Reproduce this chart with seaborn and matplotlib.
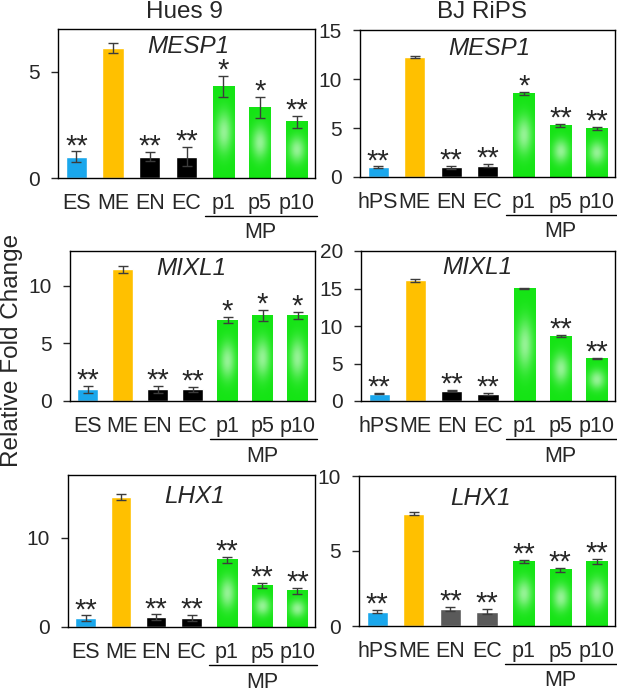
import numpy as np
import matplotlib
matplotlib.use('Agg')
import matplotlib.pyplot as plt
import matplotlib.colors as mcolors
import matplotlib.transforms as mtransforms
import seaborn as sns

# categories
hues_groups = ['ES', 'ME', 'EN', 'EC', 'p1', 'p5', 'p10']
bj_groups = ['hPS', 'ME', 'EN', 'EC', 'p1', 'p5', 'p10']

# Hues 9
mesp1_hues = [1.0, 6.1, 1.0, 1.0, 4.3, 3.3, 2.65]
mesp1_hues_err = [0.25, 0.25, 0.22, 0.45, 0.5, 0.5, 0.28]
mesp1_hues_sig = ['**', '', '**', '**', '*', '*', '**']

mixl1_hues = [1.0, 11.4, 1.0, 1.0, 7.0, 7.4, 7.4]
mixl1_hues_err = [0.3, 0.3, 0.3, 0.25, 0.28, 0.5, 0.3]
mixl1_hues_sig = ['**', '', '**', '**', '*', '*', '*']

lhx1_hues = [1.0, 14.5, 1.1, 1.0, 7.5, 4.65, 4.05]
lhx1_hues_err = [0.3, 0.35, 0.3, 0.35, 0.3, 0.3, 0.35]
lhx1_hues_sig = ['**', '', '**', '**', '**', '**', '**']

# BJ RiPS
mesp1_bj = [1.0, 12.2, 1.0, 1.15, 8.55, 5.3, 4.95]
mesp1_bj_err = [0.08, 0.1, 0.15, 0.15, 0.15, 0.15, 0.15]
mesp1_bj_sig = ['**', '', '**', '**', '*', '**', '**']

mixl1_bj = [1.0, 16.1, 1.4, 0.95, 15.0, 8.65, 5.65]
mixl1_bj_err = [0.1, 0.2, 0.1, 0.15, 0.1, 0.15, 0.1]
mixl1_bj_sig = ['**', '', '**', '**', '', '**', '**']

lhx1_bj = [0.95, 7.5, 1.15, 0.95, 4.3, 3.75, 4.3]
lhx1_bj_err = [0.1, 0.12, 0.15, 0.18, 0.12, 0.12, 0.15]
lhx1_bj_sig = ['**', '', '**', '**', '**', '**', '**']

blue = '#1aa7ec'
orange = '#ffc000'
green = '#14e414'
hues_colors = [blue, orange, 'black', 'black', green, green, green]
bj_colors = [blue, orange, 'black', 'black', green, green, green]
bj_colors_lhx1 = [blue, orange, '#5a5a5a', '#5a5a5a', green, green, green]

sns.set_style('ticks')
plt.rcParams['font.family'] = ['Liberation Sans', 'DejaVu Sans']

W, H = 617, 691
fig = plt.figure(figsize=(W / 100, H / 100), dpi=100)


def add_glow(ax, patch, color):
    # soft light spot in the middle of the green bars
    x0 = patch.get_x()
    w = patch.get_width()
    h = patch.get_height()
    u = np.linspace(-1, 1, 40)
    v = np.linspace(-1, 1, 120)
    U, V = np.meshgrid(u, v)
    a = 0.55 * np.exp(-((U / 0.75) ** 2 + (V / 0.45) ** 2))
    base = np.array(mcolors.to_rgb(color))
    img = base * (1 - a[..., None]) + a[..., None]
    ax.imshow(img, extent=[x0, x0 + w, 0, h], aspect='auto',
              zorder=patch.get_zorder() + 0.1, interpolation='bilinear')


def panel(box, groups, vals, errs, sig, colors, ymax, yticks, gene, gpos):
    l, t, r, b = box
    ax = fig.add_axes([l / W, 1 - b / H, (r - l) / W, (b - t) / H])
    sns.barplot(x=groups, y=vals, hue=groups, palette=colors, legend=False,
                width=0.58, saturation=1, errorbar=None, ax=ax)
    for p in ax.patches:
        i = int(round(p.get_x() + p.get_width() / 2))
        if colors[i] == green:
            add_glow(ax, p, green)
    ax.errorbar(range(len(vals)), vals, yerr=errs, fmt='none', ecolor='#3c3c3c',
                elinewidth=1, capsize=3.5, capthick=1, zorder=5)
    for i, s in enumerate(sig):
        if s:
            ax.annotate(s, (i, vals[i] + errs[i]), xytext=(0, -2),
                        textcoords='offset points', ha='center', va='baseline',
                        fontsize=21)
    ax.set_xlim(-0.5, len(vals) - 0.5)
    ax.set_ylim(0, ymax)
    ax.set_yticks(yticks)
    ax.set_xlabel('')
    ax.set_ylabel('')
    for sp in ax.spines.values():
        sp.set_visible(True)
        sp.set_color('black')
        sp.set_linewidth(1)
    ax.tick_params(axis='x', length=0, pad=11, labelsize=15.5)
    ax.tick_params(axis='y', length=5, width=1, pad=8, labelsize=15, direction='out')
    ax.text(gpos[0], gpos[1], gene, transform=ax.transAxes, ha='center',
            va='baseline', fontsize=17.5, style='italic')
    hpx = b - t
    trans = mtransforms.blended_transform_factory(ax.transData, ax.transAxes)
    ax.plot([3.5, 6.55], [-38 / hpx, -38 / hpx], transform=trans, color='black',
            lw=1, clip_on=False)
    ax.text(5, -55 / hpx, 'MP', transform=trans, ha='center', va='center',
            fontsize=15.5)
    return ax


panel((58, 29, 315, 178), hues_groups, mesp1_hues, mesp1_hues_err, mesp1_hues_sig,
      hues_colors, 7, [0, 5], 'MESP1', (0.506, 0.839))
panel((360, 30, 615, 177), bj_groups, mesp1_bj, mesp1_bj_err, mesp1_bj_sig,
      bj_colors, 15, [0, 5, 10, 15], 'MESP1', (0.506, 0.83))
panel((70, 251, 315, 401), hues_groups, mixl1_hues, mixl1_hues_err, mixl1_hues_sig,
      hues_colors, 13, [0, 5, 10], 'MIXL1', (0.494, 0.84))
panel((361, 251, 615, 401), bj_groups, mixl1_bj, mixl1_bj_err, mixl1_bj_sig,
      bj_colors, 20, [0, 5, 10, 15, 20], 'MIXL1', (0.457, 0.847))
panel((68, 475, 315, 627), hues_groups, lhx1_hues, lhx1_hues_err, lhx1_hues_sig,
      hues_colors, 17, [0, 10], 'LHX1', (0.514, 0.816))
panel((359, 476, 615, 626), bj_groups, lhx1_bj, lhx1_bj_err, lhx1_bj_sig,
      bj_colors_lhx1, 10, [0, 5, 10], 'LHX1', (0.473, 0.807))

fig.text(184 / W, 1 - 18 / H, 'Hues 9', ha='center', va='baseline', fontsize=17.5)
fig.text(482 / W, 1 - 18 / H, 'BJ RiPS', ha='center', va='baseline', fontsize=17.5)
fig.text(12 / W, 1 - 350 / H, 'Relative Fold Change', rotation=90, ha='center',
         va='center', fontsize=17.5)

fig.savefig('out.png', dpi=100)
